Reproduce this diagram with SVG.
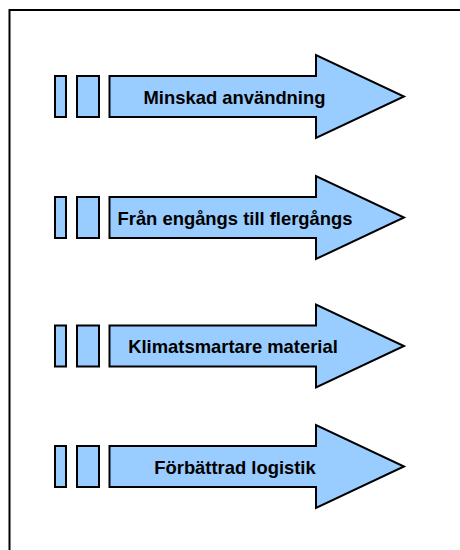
<svg xmlns="http://www.w3.org/2000/svg" width="460" height="550" viewBox="0 0 460 550">
<style>
.frame{fill:none;stroke:#000;stroke-width:2}
.blk{fill:#99CCFF;stroke:#000;stroke-width:2;stroke-linejoin:miter}
.lbl{font-family:"Liberation Sans",Arial,sans-serif;font-weight:bold;font-size:18.4px;fill:#000;text-anchor:middle}
</style>
<rect width="460" height="550" fill="#fff"/>
<path class="frame" d="M9.5 560 V10 H470"/>
<defs>
<g id="shape">
<rect class="blk" x="55" y="-20.5" width="11" height="41"/>
<rect class="blk" x="77" y="-20.5" width="22" height="41"/>
<path class="blk" d="M109.5 -20.5 H316 V-41.5 L404 0 L316 41.5 V20.5 H109.5 Z"/>
</g>
</defs>
<g id="arrow1">
<use href="#shape" transform="translate(0,96.5)"/>
<text class="lbl" x="234.5" y="103.5">Minskad användning</text>
</g>
<g id="arrow2">
<use href="#shape" transform="translate(0,217.5)"/>
<text class="lbl" x="235" y="224.5">Från engångs till flergångs</text>
</g>
<g id="arrow3">
<use href="#shape" transform="translate(0,346)"/>
<text class="lbl" x="233" y="353">Klimatsmartare material</text>
</g>
<g id="arrow4">
<use href="#shape" transform="translate(0,466.5)"/>
<text class="lbl" x="235" y="473.5">Förbättrad logistik</text>
</g>
<g id="connectors"></g>
</svg>
